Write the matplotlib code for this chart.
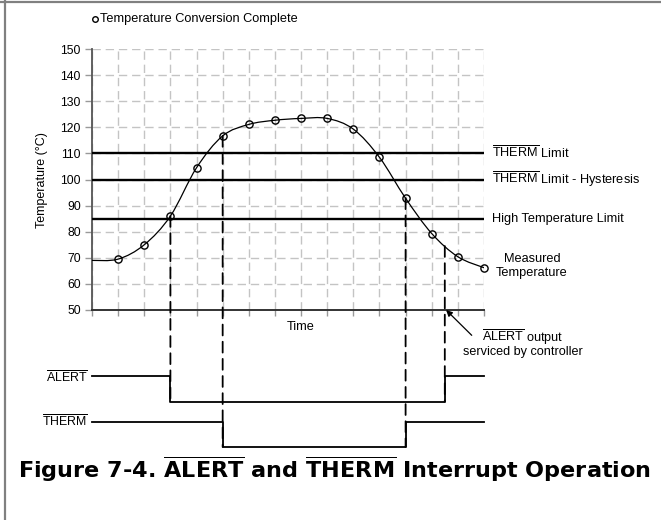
import numpy as np
import matplotlib
matplotlib.use('Agg')
import matplotlib.pyplot as plt
from matplotlib.path import Path
from matplotlib.patches import PathPatch, ConnectionPatch
from matplotlib.lines import Line2D

plt.rcParams['font.family'] = ['Liberation Sans', 'DejaVu Sans']
plt.rcParams['mathtext.fontset'] = 'custom'
plt.rcParams['mathtext.rm'] = 'Liberation Sans'
plt.rcParams['mathtext.bf'] = 'DejaVu Sans:bold'
plt.rcParams['mathtext.it'] = 'Liberation Sans:italic'

# ---------------- data ----------------
conv_time = [1, 2, 3, 4, 5, 6, 7, 8, 9, 10, 11, 12, 13, 14, 15]
conv_temp = [69.5, 75.0, 86.0, 104.5, 116.7, 121.1, 122.7, 123.4, 123.4,
             119.3, 108.5, 92.8, 79.3, 70.4, 66.2]
curve_start_time = 0
curve_start_temp = 69.0
y_ticks = [50, 60, 70, 80, 90, 100, 110, 120, 130, 140, 150]
limit_values = [110, 100, 85]
limit_labels = [r'$\overline{\mathrm{THERM}}$ Limit',
                r'$\overline{\mathrm{THERM}}$ Limit - Hysteresis',
                'High Temperature Limit']
alert_edges = [0, 3, 13.5, 15]
alert_states = [1, 0, 1]
therm_edges = [0, 5, 12, 15]
therm_states = [1, 0, 1]
# event markers: (time, temperature where dashed line starts, signal it drops to)
event_time = [3, 5, 12, 13.5]
event_temp = [86.0, 116.7, 92.8, 74.5]
event_signal = ['ALERT', 'THERM', 'THERM', 'ALERT']

W, H = 661, 520
def fx(px):
    return px / W
def fy(py):
    return 1 - py / H

FS = 9.2

fig = plt.figure(figsize=(6.61, 5.20), dpi=100)
fig.patch.set_facecolor('white')

# main temperature axes (pixels: x 92..484, y 49..310)
ax = fig.add_axes([fx(92), fy(310), (484 - 92) / W, (310 - 49) / H])
ax.set_xlim(0, 15)
ax.set_ylim(50, 150)
ax.set_xticks(range(0, 16))
ax.set_yticks(y_ticks)
ax.set_xticklabels([])
ax.grid(True, color='#c4c4c4', linestyle=(0, (6, 3.5)), lw=1.0, zorder=0)
for s in ['top', 'right']:
    ax.spines[s].set_visible(False)
ax.spines['left'].set_color('#555555')
ax.spines['left'].set_linewidth(1.3)
ax.spines['bottom'].set_color('#333333')
ax.spines['bottom'].set_linewidth(1.4)
ax.tick_params(axis='y', direction='out', length=5, width=1, color='#999999',
               labelsize=8.8, pad=3)
ax.tick_params(axis='x', direction='out', length=4.5, width=1, color='#999999')

# limit lines
for v, lab in zip(limit_values, limit_labels):
    ax.plot([0, 15], [v, v], color='black', lw=1.7, zorder=3, solid_capstyle='butt')
    ax.text(15.3, v, lab, fontsize=FS, va='center', ha='left', clip_on=False)

# smooth measured-temperature curve (Catmull-Rom rendered as Bezier path)
xs = [curve_start_time] + conv_time
ys = [curve_start_temp] + conv_temp
pts = np.column_stack([xs, ys]).astype(float)
verts = [pts[0]]
codes = [Path.MOVETO]
n = len(pts)
for i in range(n - 1):
    p0 = pts[i - 1] if i > 0 else pts[i]
    p1 = pts[i]
    p2 = pts[i + 1]
    p3 = pts[i + 2] if i + 2 < n else pts[i + 1]
    verts += [p1 + (p2 - p0) / 6, p2 - (p3 - p1) / 6, p2]
    codes += [Path.CURVE4] * 3
ax.add_patch(PathPatch(Path(verts, codes), fill=False, edgecolor='black', lw=0.9, zorder=4))
ax.plot(conv_time, conv_temp, linestyle='none', marker='o', ms=5.2, mfc='none',
        mec='black', mew=1.0, zorder=5, clip_on=False)

ax.text(16.84, 66.9, 'Measured\nTemperature', fontsize=FS, ha='center', va='center',
        linespacing=1.15, clip_on=False)
ax.text(8.0, 43.6, 'Time', fontsize=FS, ha='center', va='center', clip_on=False)

# arrow for ALERT serviced
ax.annotate('', xy=(13.55, 50), xytext=(14.53, 40.3), annotation_clip=False,
            arrowprops=dict(arrowstyle='-|>', color='black', lw=0.9,
                            mutation_scale=9, shrinkA=0, shrinkB=0))
ax.text(16.49, 39.6, r'$\overline{\mathrm{ALERT}}$ output', fontsize=9.1,
        ha='center', va='center', clip_on=False)
ax.text(16.49, 33.9, 'serviced by controller', fontsize=9.1,
        ha='center', va='center', clip_on=False)

# timing diagram axes (pixels: y 360..460)
ax2 = fig.add_axes([fx(92), fy(460), (484 - 92) / W, 100 / H])
ax2.set_xlim(0, 15)
ax2.set_ylim(0, 100)
ax2.axis('off')
levels = {'ALERT': (58.3, 26.0), 'THERM': (13.0, 25.3)}

def sig_y(name, states):
    base, amp = levels[name]
    return [base + amp * s for s in states]

ya = sig_y('ALERT', alert_states)
ax2.step(alert_edges, ya + [ya[-1]], where='post', color='black', lw=1.3, clip_on=False)
yt = sig_y('THERM', therm_states)
ax2.step(therm_edges, yt + [yt[-1]], where='post', color='black', lw=1.3, clip_on=False)

fig.text(fx(88), fy(382.7), r'$\overline{\mathrm{ALERT}}$', fontsize=8.9,
         ha='right', va='baseline')
fig.text(fx(88), fy(426.0), r'$\overline{\mathrm{THERM}}$', fontsize=8.9,
         ha='right', va='baseline')

for t, temp, sig in zip(event_time, event_temp, event_signal):
    low = levels[sig][0]
    cp = ConnectionPatch(xyA=(t, temp), coordsA=ax.transData,
                         xyB=(t, low), coordsB=ax2.transData,
                         color='black', lw=1.3, linestyle=(0, (6, 3.5)), zorder=6)
    fig.add_artist(cp)

# y label
fig.text(fx(41.7), fy(180), 'Temperature (°C)', fontsize=9.0, rotation=90,
         ha='center', va='center')

# legend at top
fig.add_artist(Line2D([fx(94.5)], [fy(19)], marker='o', ms=4, mfc='white',
                      mec='black', mew=1.0, linestyle='none'))
fig.text(fx(100), fy(19), 'Temperature Conversion Complete', fontsize=FS,
         ha='left', va='center')

# title
fig.text(fx(18), fy(478), r'Figure 7-4. $\overline{\mathbf{ALERT}}$ and '
         r'$\overline{\mathbf{THERM}}$ Interrupt Operation',
         fontsize=16.1, fontweight='bold', family='DejaVu Sans',
         ha='left', va='baseline')

# frame lines
fig.add_artist(Line2D([fx(5), fx(5)], [0, 1], color='#808080', lw=1.6))
fig.add_artist(Line2D([0, 1], [fy(1.5), fy(1.5)], color='#808080', lw=1.6))

fig.savefig('out.png', dpi=100)
